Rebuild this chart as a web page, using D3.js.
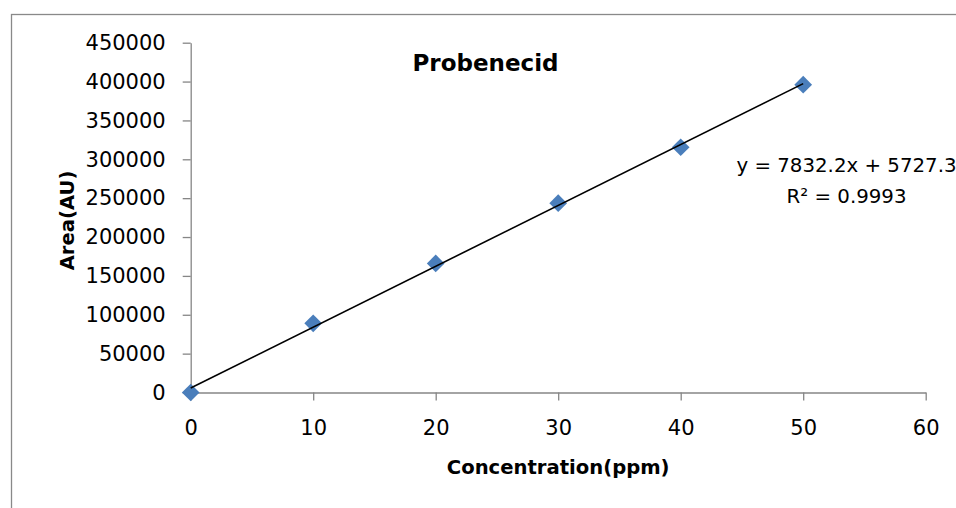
<!DOCTYPE html>
<html>
<head>
<meta charset="utf-8">
<script src="https://cdn.jsdelivr.net/npm/d3@7"></script>
<style>
	body { margin: 0; background: #fff; }
	.tick text { font-family: "DejaVu Sans", sans-serif; font-size: 21px; fill: #000; }
	.axis path, .axis line { stroke: #868686; stroke-width: 1.3; }
	.btitle { font-family: "DejaVu Sans", sans-serif; font-weight: bold; fill: #000; }
	.eq { font-family: "DejaVu Sans", sans-serif; font-size: 19.8px; fill: #000; }
</style>
</head>
<body>
<div id="picture"></div>
<script>
const concentration = [0, 10, 20, 30, 40, 50]
	, area          = [0, 89000, 166000, 243500, 315500, 396000]
	, xTicks        = [0, 10, 20, 30, 40, 50, 60]
	, yTicks        = [0, 50000, 100000, 150000, 200000, 250000, 300000, 350000, 400000, 450000]
	, fit           = { slope: 7832.2, intercept: 5727.3, r2: 0.9993 };

const width  = 956
	, height = 508
	, plot   = { left: 190.7, right: 925.7, top: 42.7, bottom: 392.5 };

const svg = d3.select("#picture")
	.append("svg")
		.attr("width", width)
		.attr("height", height);

svg.append("rect")
	.attr("width", width).attr("height", height)
	.attr("fill", "#fff");

// chart frame (runs off the right and bottom edges)
svg.append("rect")
	.attr("x", 11.5).attr("y", 14.5)
	.attr("width", width + 20).attr("height", height + 20)
	.attr("fill", "none")
	.attr("stroke", "#898989")
	.attr("stroke-width", 1.3);

const x = d3.scaleLinear()
	.domain([0, 60])
	.range([plot.left, plot.right]);
const y = d3.scaleLinear()
	.domain([0, 450000])
	.range([plot.bottom, plot.top]);

svg.append("g")
	.attr("class", "axis")
	.attr("transform", "translate(0," + plot.bottom + ")")
	.call(d3.axisBottom(x)
		.tickValues(xTicks)
		.tickSize(8)
		.tickSizeOuter(0)
		.tickPadding(19.5)
		.tickFormat(d3.format("d")));

svg.append("g")
	.attr("class", "axis")
	.attr("transform", "translate(" + plot.left + ",0)")
	.call(d3.axisLeft(y)
		.tickValues(yTicks)
		.tickSize(8)
		.tickSizeOuter(0)
		.tickPadding(17)
		.tickFormat(d3.format("d")));

// markers
const diamond = d3.symbol().type(d3.symbolDiamond2).size(200);
svg.selectAll(".pt")
	.data(concentration)
	.join("path")
		.attr("class", "pt")
		.attr("d", diamond)
		.attr("transform", (d, i) => "translate(" + x(d) + "," + y(area[i]) + ")")
		.attr("fill", "#4A7EBB");

// linear trendline, drawn over the markers
const xFit = d3.extent(concentration);
svg.append("line")
	.attr("x1", x(xFit[0]))
	.attr("y1", y(fit.slope * xFit[0] + fit.intercept))
	.attr("x2", x(xFit[1]))
	.attr("y2", y(fit.slope * xFit[1] + fit.intercept))
	.attr("stroke", "#000")
	.attr("stroke-width", 1.6);

// titles
svg.append("text")
	.attr("class", "btitle")
	.attr("x", 485.5).attr("y", 71.3)
	.attr("text-anchor", "middle")
	.style("font-size", "23px")
	.text("Probenecid");

svg.append("text")
	.attr("class", "btitle")
	.attr("x", (plot.left + plot.right) / 2).attr("y", 474.3)
	.attr("text-anchor", "middle")
	.style("font-size", "19.6px")
	.text("Concentration(ppm)");

svg.append("text")
	.attr("class", "btitle")
	.attr("transform", "translate(73.5," + 220.5 + ") rotate(-90)")
	.attr("text-anchor", "middle")
	.style("font-size", "19.6px")
	.text("Area(AU)");

// equation label
svg.append("text")
	.attr("class", "eq")
	.attr("x", 846.5).attr("y", 172)
	.attr("text-anchor", "middle")
	.text("y = " + fit.slope + "x + " + fit.intercept);
svg.append("text")
	.attr("class", "eq")
	.attr("x", 846.5).attr("y", 203)
	.attr("text-anchor", "middle")
	.text("R² = " + fit.r2);
</script>
</body>
</html>
